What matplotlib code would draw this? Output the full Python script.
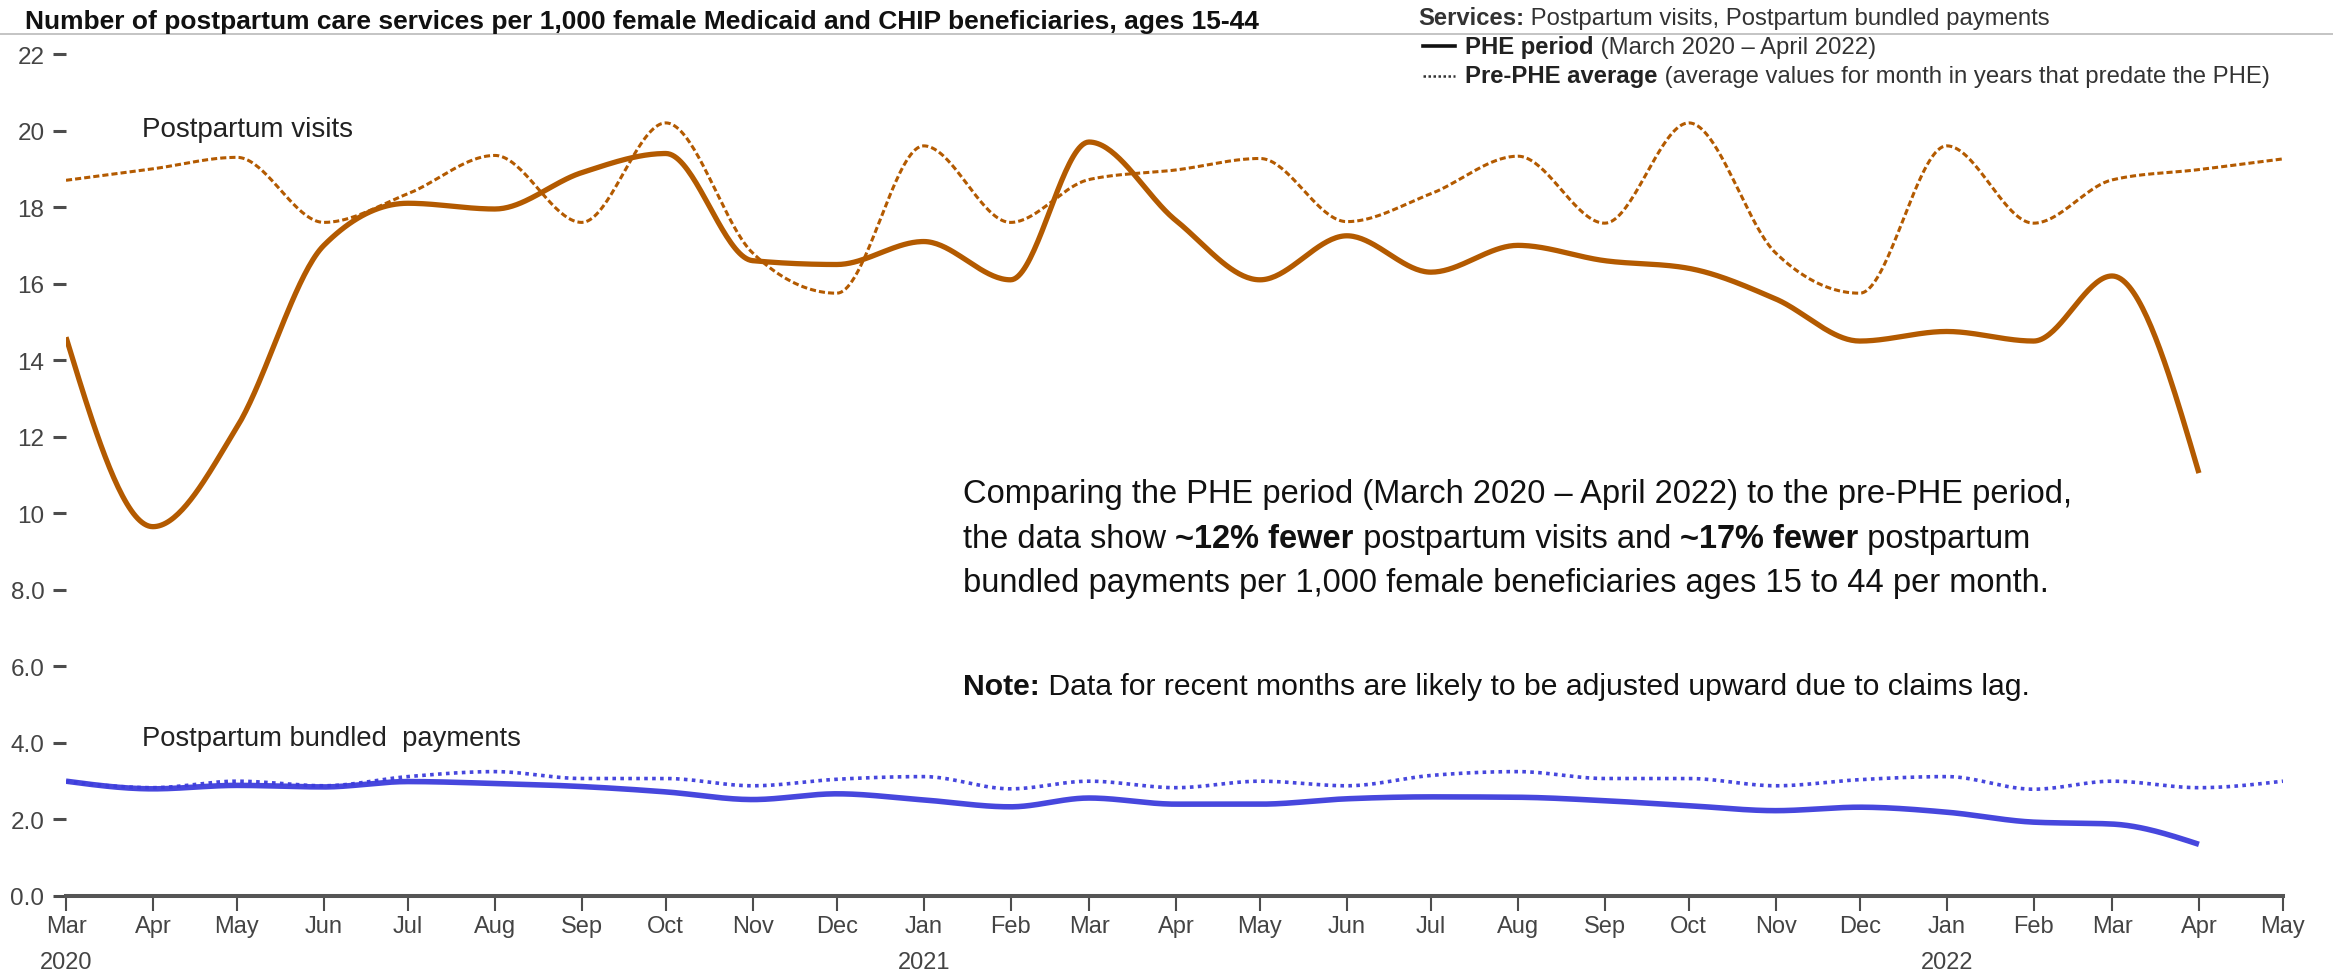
import numpy as np
import pandas as pd
import matplotlib
matplotlib.use('Agg')
import matplotlib.pyplot as plt
import matplotlib.dates as mdates
from matplotlib.lines import Line2D

plt.rcParams['font.family'] = ['Liberation Sans', 'DejaVu Sans']

W, H = 2333, 978

phe_months = pd.date_range('2020-03-01', '2022-04-01', freq='MS')
avg_months = pd.date_range('2020-03-01', '2022-05-01', freq='MS')

# postpartum visits per 1,000 beneficiaries
visits_phe = [14.6, 9.65, 12.25, 17.0, 18.1, 17.95, 18.9, 19.4, 16.6, 16.5, 17.1, 16.1, 19.7,
              17.65, 16.1, 17.25, 16.3, 17.0, 16.6, 16.4, 15.6, 14.5, 14.75, 14.5, 16.2, 11.05]
visits_avg = [18.7, 19.0, 19.3, 17.6, 18.35, 19.35, 17.6, 20.2, 16.8, 15.75, 19.6, 17.6, 18.72,
              18.97, 19.27, 17.62, 18.35, 19.33, 17.58, 20.2, 16.8, 15.75, 19.6, 17.58, 18.71,
              18.98, 19.26]

# postpartum bundled payments per 1,000 beneficiaries
bundled_phe = [3.0, 2.8, 2.89, 2.85, 2.99, 2.94, 2.86, 2.72, 2.52, 2.67, 2.51, 2.33, 2.56, 2.4,
               2.4, 2.54, 2.59, 2.58, 2.49, 2.36, 2.23, 2.32, 2.19, 1.93, 1.88, 1.35]
bundled_avg = [2.99, 2.83, 3.0, 2.88, 3.12, 3.25, 3.07, 3.07, 2.88, 3.05, 3.12, 2.8, 3.0, 2.83,
               3.0, 2.88, 3.15, 3.25, 3.07, 3.07, 2.88, 3.04, 3.12, 2.79, 3.0, 2.83, 3.0]

y_ticks = [0, 2, 4, 6, 8, 10, 12, 14, 16, 18, 20, 22]
y_labels = ['0.0', '2.0', '4.0', '6.0', '8.0', '10', '12', '14', '16', '18', '20', '22']

BROWN = '#b35a00'
BLUE = '#3d3ddc'
TICK = '#4d4d4d'


def monotone_curve(x, y, n=40):
    # monotone cubic (same slopes as d3.curveMonotoneX)
    x = np.asarray(x, float)
    y = np.asarray(y, float)
    h = np.diff(x)
    s = np.diff(y) / h
    m = np.zeros_like(y)
    for i in range(1, len(y) - 1):
        p = (s[i - 1] * h[i] + s[i] * h[i - 1]) / (h[i - 1] + h[i])
        m[i] = (np.sign(s[i - 1]) + np.sign(s[i])) * min(abs(s[i - 1]), abs(s[i]), 0.5 * abs(p))
    m[0] = (3 * s[0] - m[1]) / 2
    m[-1] = (3 * s[-1] - m[-2]) / 2
    xs, ys = [], []
    for i in range(len(h)):
        t = np.linspace(0, 1, n, endpoint=False)
        h00 = 2 * t**3 - 3 * t**2 + 1
        h10 = t**3 - 2 * t**2 + t
        h01 = -2 * t**3 + 3 * t**2
        h11 = t**3 - t**2
        xs.append(x[i] + t * h[i])
        ys.append(h00 * y[i] + h10 * h[i] * m[i] + h01 * y[i + 1] + h11 * h[i] * m[i + 1])
    xs.append([x[-1]])
    ys.append([y[-1]])
    return np.concatenate(xs), np.concatenate(ys)


fig = plt.figure(figsize=(W / 100, H / 100), dpi=100)
x0, x1, y0, y1 = 66, 2283, 897, 55
ax = fig.add_axes([x0 / W, (H - y0) / H, (x1 - x0) / W, (y0 - y1) / H])

xp = mdates.date2num(phe_months)
xa = mdates.date2num(avg_months)

ax.plot(*monotone_curve(xa, visits_avg), color=BROWN, lw=2.2, ls=(0, (2.0, 1.0)))
ax.plot(*monotone_curve(xp, visits_phe), color=BROWN, lw=3.8, solid_capstyle='butt')
ax.plot(*monotone_curve(xa, bundled_avg), color=BLUE, lw=2.6, ls=(0, (1.0, 1.2)), alpha=0.95)
ax.plot(*monotone_curve(xp, bundled_phe), color=BLUE, lw=4.0, solid_capstyle='butt', alpha=0.95)

ax.set_xlim(xa[0], xa[-1])
ax.set_ylim(0, 22)
ax.set_yticks(y_ticks)
ax.set_yticklabels(y_labels)
xlabels = []
for d in avg_months:
    lab = d.strftime('%b')
    if d == avg_months[0] or d.month == 1:
        lab += '\n' + str(d.year)
    xlabels.append(lab)
ax.set_xticks(xa)
ax.set_xticklabels(xlabels, linespacing=1.8, va='top')

for side in ['left', 'top', 'right']:
    ax.spines[side].set_visible(False)
ax.spines['bottom'].set_color('#555555')
ax.spines['bottom'].set_linewidth(2.9)
ax.tick_params(axis='y', length=9.5, width=2.2, color=TICK, pad=6, labelsize=17.5, labelcolor='#444444')
ax.tick_params(axis='x', length=11, width=1.5, color=TICK, pad=3, labelsize=17, labelcolor='#444444')


def fx(px):
    return px / W


def fy(py):
    return 1 - py / H


renderer = fig.canvas.get_renderer()


def text_width(s, size, weight):
    t = fig.text(0, 0, s + '|', fontsize=size, fontweight=weight)
    r = fig.text(0, 0, '|', fontsize=size, fontweight=weight)
    w = t.get_window_extent(renderer).width - r.get_window_extent(renderer).width
    t.remove()
    r.remove()
    return w


def rich_text(x, y, parts, size):
    for s, weight, color in parts:
        fig.text(fx(x), fy(y), s, fontsize=size, fontweight=weight, color=color,
                 ha='left', va='baseline')
        x += text_width(s, size, weight)


# title and header rule
fig.text(fx(25), fy(29), 'Number of postpartum care services per 1,000 female Medicaid and CHIP '
         'beneficiaries, ages 15-44', fontsize=19, fontweight='bold', color='#111111',
         ha='left', va='baseline')
fig.add_artist(Line2D([0, 1], [fy(35), fy(35)], color='#b4b4b4', lw=1.1))

# legend block
rich_text(1418, 25, [('Services:', 'bold', '#333333'),
                     (' Postpartum visits, Postpartum bundled payments', 'normal', '#333333')], 17.2)
fig.add_artist(Line2D([fx(1423), fx(1455)], [fy(47), fy(47)], color='#111111', lw=2.6))
rich_text(1465, 54, [('PHE period', 'bold', '#222222'),
                     (' (March 2020 \u2013 April 2022)', 'normal', '#333333')], 17.2)
fig.add_artist(Line2D([fx(1423), fx(1455)], [fy(77), fy(77)], color='#333333', lw=1.8,
                      ls=(0, (1.0, 1.0))))
rich_text(1465, 83, [('Pre-PHE average', 'bold', '#222222'),
                     (' (average values for month in years that predate the PHE)', 'normal',
                      '#333333')], 17.2)

# series labels
fig.text(fx(142), fy(137), 'Postpartum visits', fontsize=20, color='#222222',
         ha='left', va='baseline')
fig.text(fx(142), fy(746), 'Postpartum bundled  payments', fontsize=19.7, color='#222222',
         ha='left', va='baseline')

# summary text
rich_text(963, 503, [('Comparing the PHE period (March 2020 \u2013 April 2022) to the pre-PHE period,',
                      'normal', '#111111')], 23.5)
rich_text(963, 548, [('the data show ', 'normal', '#111111'), ('~12% fewer', 'bold', '#111111'),
                     (' postpartum visits and ', 'normal', '#111111'),
                     ('~17% fewer', 'bold', '#111111'), (' postpartum', 'normal', '#111111')], 23.5)
rich_text(963, 592, [('bundled payments per 1,000 female beneficiaries ages 15 to 44 per month.',
                      'normal', '#111111')], 23.5)
rich_text(963, 695, [('Note:', 'bold', '#111111'),
                     (' Data for recent months are likely to be adjusted upward due to claims lag.',
                      'normal', '#111111')], 21.7)

fig.savefig('out.png', dpi=100)
